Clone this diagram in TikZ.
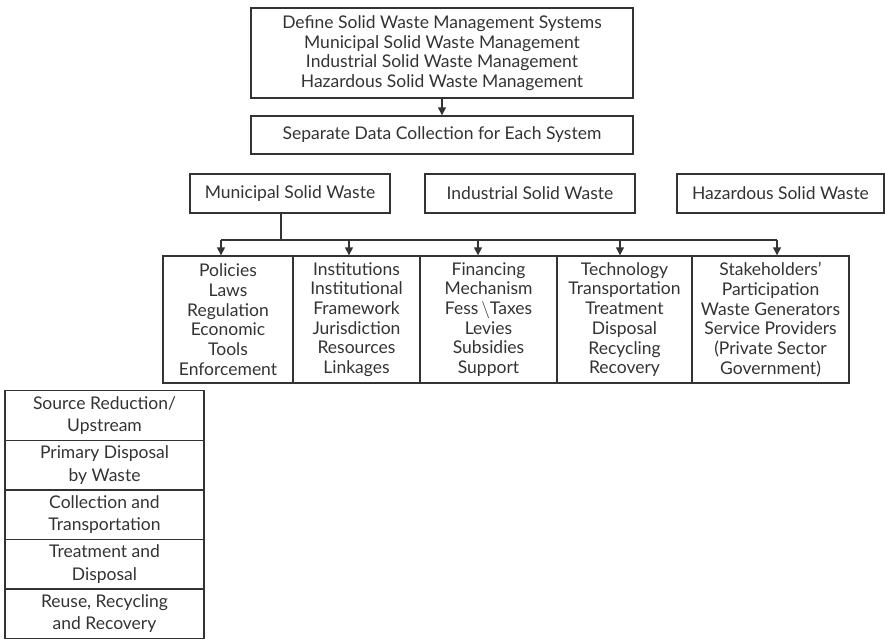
\documentclass[tikz,border=0pt]{standalone}
\usepackage{fontspec}
\setmainfont{Lato}
\usetikzlibrary{arrows.meta}
\definecolor{ink}{HTML}{333333}
\begin{document}
\begin{tikzpicture}[x=1pt,y=-1pt,
  every node/.style={font=\fontsize{17.5}{19.7}\selectfont, text=ink, inner sep=0pt, align=center},
  box/.style={draw=ink, line width=1.4pt, rectangle},
  stagebox/.style={box, minimum width=199pt, minimum height=49.6pt, font=\fontsize{17.5}{22.5}\selectfont},
  link/.style={draw=ink, line width=1.4pt},
  arr/.style={link, -{Triangle[width=8pt,length=8pt]}}]
\useasboundingbox (0,0) rectangle (885,643);

% system definition and data collection
\node[box, minimum width=382pt, minimum height=90pt] (def) at (442,53)
  {Define Solid Waste Management Systems\\Municipal Solid Waste Management\\Industrial Solid Waste Management\\Hazardous Solid Waste Management};
\node[box, minimum width=382pt, minimum height=38pt] (sep) at (442,135)
  {Separate Data Collection for Each System};
\draw[arr] (def.south) -- (sep.north);

% waste streams
\node[box, minimum width=200pt, minimum height=39pt] (mun) at (290,193.5) {Municipal Solid Waste};
\node[box, minimum width=210pt, minimum height=39pt] (ind) at (530,193.5) {Industrial Solid Waste};
\node[box, minimum width=207pt, minimum height=39pt] (haz) at (780.5,193.5) {Hazardous Solid Waste};

% management components
\node[box, minimum width=130pt, minimum height=127pt] (c1) at (228,319.5)
  {Policies\\Laws\\Regulation\\Economic\\Tools\\Enforcement};
\node[box, minimum width=127pt, minimum height=127pt] (c2) at (356.5,319.5)
  {Institutions\\Institutional\\Framework\\Jurisdiction\\Resources\\Linkages};
\node[box, minimum width=137pt, minimum height=127pt] (c3) at (488.5,319.5)
  {Financing\\Mechanism\\Fess\,$\backslash$Taxes\\Levies\\Subsidies\\Support};
\node[box, minimum width=135pt, minimum height=127pt] (c4) at (624.5,319.5)
  {Technology\\Transportation\\Treatment\\Disposal\\Recycling\\Recovery};
\node[box, minimum width=157pt, minimum height=127pt] (c5) at (770.5,319.5)
  {Stakeholders'\\Participation\\Waste Generators\\Service Providers\\(Private Sector\\Government)};

% distribution bus
\coordinate (drop) at (281,213);
\coordinate (b1) at (221,240);
\coordinate (b2) at (349,240);
\coordinate (b3) at (478,240);
\coordinate (b4) at (620,240);
\coordinate (b5) at (777,240);
\draw[link] (drop |- mun.south) -- (drop |- b1);
\draw[link] (b1) -- (b5);
\draw[arr] (b1) -- (b1 |- c1.north);
\draw[arr] (b2) -- (b2 |- c2.north);
\draw[arr] (b3) -- (b3 |- c3.north);
\draw[arr] (b4) -- (b4 |- c4.north);
\draw[arr] (b5) -- (b5 |- c5.north);

% waste management stages
\node[stagebox] (s1) at (104.5,415.5) {Source Reduction/\\Upstream};
\node[stagebox] (s2) at (104.5,465.0) {Primary Disposal\\by Waste};
\node[stagebox] (s3) at (104.5,514.5) {Collection and\\Transportation};
\node[stagebox] (s4) at (104.5,564.0) {Treatment and\\Disposal};
\node[stagebox] (s5) at (104.5,613.5) {Reuse, Recycling\\and Recovery};
\end{tikzpicture}
\end{document}
